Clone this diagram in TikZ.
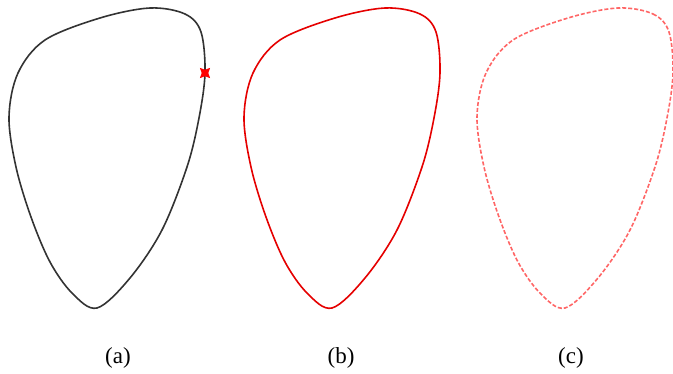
\documentclass[tikz,border=0pt]{standalone}
\usepackage{fontspec}
\setmainfont{Liberation Serif}
\usetikzlibrary{shapes.geometric}
\begin{document}
\begin{tikzpicture}[x=1pt,y=-1pt,
  shp/.style={line width=1.6pt, line join=round},
  lbl/.style={font=\fontsize{23}{26}\selectfont, inner sep=0pt, anchor=base}]
\useasboundingbox (0,0) rectangle (673,374);
\def\blob{plot[smooth cycle, tension=0.55] coordinates {(150,8) (185,14) (201,32) (205,73) (199,118) (187,167) (162,230) (130,278) (97,308) (72,293) (50,262) (31,217) (16,167) (9,117) (18,73) (45,40) (100,18)}}
% (a)
\draw[shp, draw=black!80] \blob;
\node[fill=red, draw=red, star, star points=4, star point ratio=0.45, minimum size=6pt, inner sep=0pt] (pt) at (205,73) {};
% (b)
\begin{scope}[xshift=235pt]
\draw[shp, draw=red!90!black] \blob;
\end{scope}
% (c)
\begin{scope}[xshift=468pt]
\draw[line width=1.6pt, draw=red!60, dash pattern=on 4pt off 2pt] \blob;
\end{scope}
\node[lbl] (la) at (118,364) {(a)};
\node[lbl] (lb) at (341,364) {(b)};
\node[lbl] (lc) at (571,364) {(c)};
\end{tikzpicture}
\end{document}
